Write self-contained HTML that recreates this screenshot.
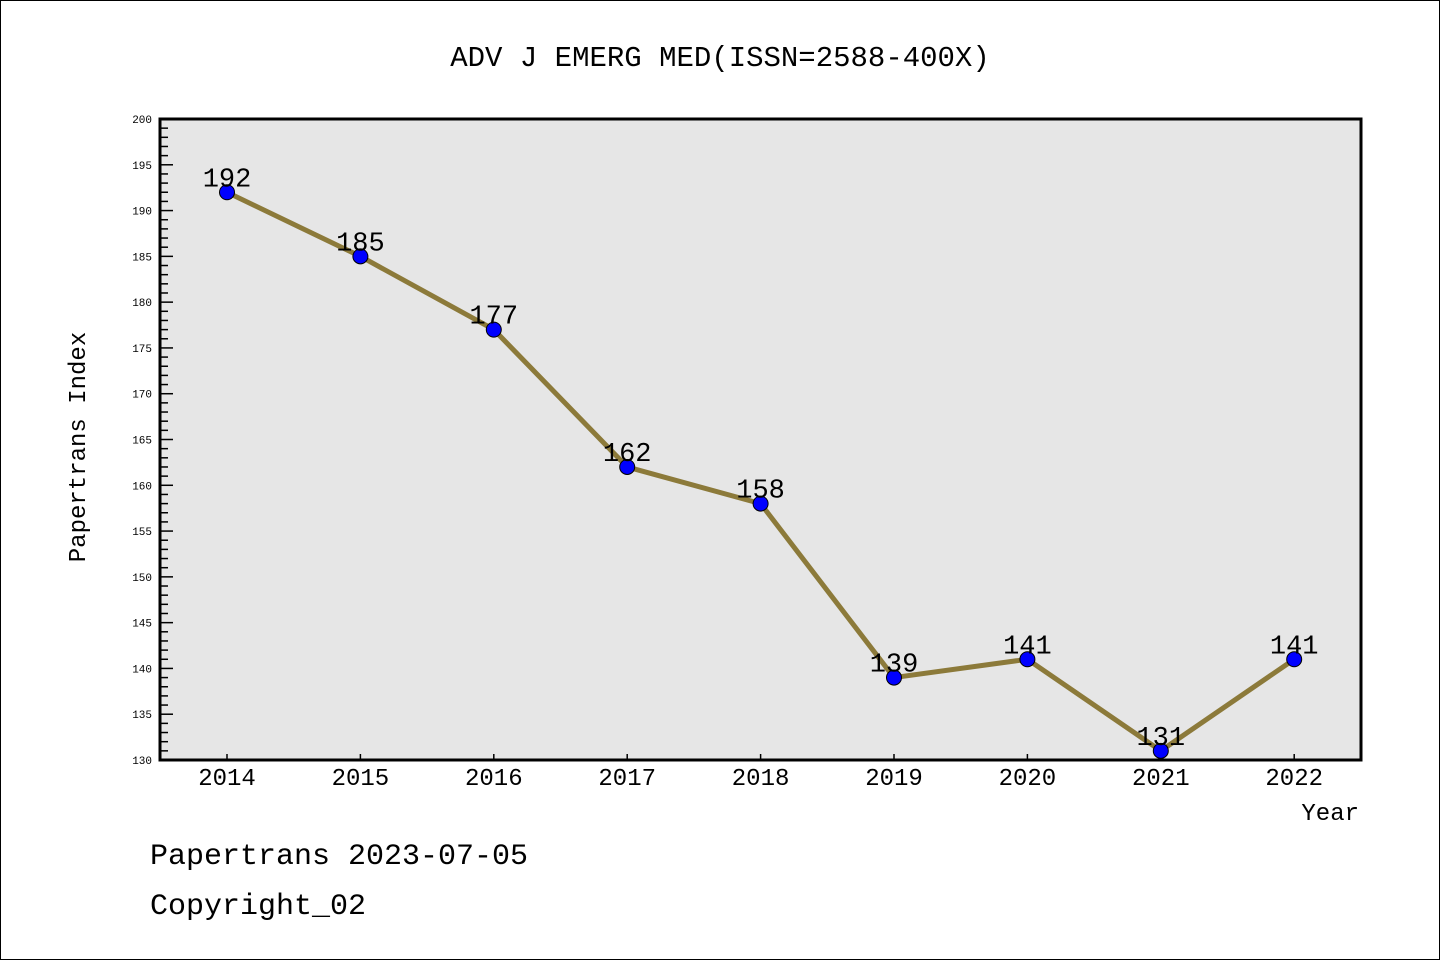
<!DOCTYPE html>
<html><head><meta charset="utf-8"><style>
html,body{margin:0;padding:0;background:#fff;}
svg{display:block;}
text{font-family:"Liberation Mono","DejaVu Sans Mono",monospace;}
</style></head><body>
<svg id="chart" width="1440" height="960" xmlns="http://www.w3.org/2000/svg">
<rect x="0.5" y="0.5" width="1439" height="959" fill="#fff" stroke="#000" stroke-width="1"/>
<text x="720" y="66" text-anchor="middle" font-size="29">ADV J EMERG MED(ISSN=2588-400X)</text>
<rect x="160" y="119" width="1201" height="641" fill="#e6e6e6"/>
<g id="yticks"></g>
<g id="xticks"></g>
<g id="series"></g>
<rect x="160" y="119" width="1201" height="641" fill="none" stroke="#000" stroke-width="3"/>
<text transform="translate(85,447) rotate(-90)" text-anchor="middle" font-size="24">Papertrans Index</text>
<text x="1359" y="820" text-anchor="end" font-size="24">Year</text>
<text x="150" y="864" font-size="30">Papertrans 2023-07-05</text>
<text x="150" y="914" font-size="30">Copyright_02</text>
</svg>
<script>
const years = [2014,2015,2016,2017,2018,2019,2020,2021,2022];
const values = [192,185,177,162,158,139,141,131,141];
const yTickLabels = [130,135,140,145,150,155,160,165,170,175,180,185,190,195,200];
const NS = "http://www.w3.org/2000/svg";
const X0=160,X1=1361,Y0=760,Y1=119,yMin=130,yMax=200;
const xFirst=227,xStep=133.4;
function xs(i){return xFirst+i*xStep;}
function ys(v){return Y0-(v-yMin)/(yMax-yMin)*(Y0-Y1);}
function mk(tag,attrs,parent){const e=document.createElementNS(NS,tag);for(const k in attrs)e.setAttribute(k,attrs[k]);parent.appendChild(e);return e;}
const yg=document.getElementById('yticks');
for(let v=yMin;v<=yMax;v++){
  const major=(v%5===0);
  const t=mk('line',{x1:X0,x2:X0+(major?13:8),y1:ys(v),y2:ys(v),stroke:'#000','stroke-width':1.5},yg);
  
  
}
yTickLabels.forEach(v=>{
  const t=mk('text',{x:152,y:ys(v)+4,'text-anchor':'end','font-size':11,'font-family':'"DejaVu Sans",sans-serif'},yg);
  t.textContent=v;
  
  
});
const xg=document.getElementById('xticks');
years.forEach((y,i)=>{
  const l=mk('line',{x1:xs(i),x2:xs(i),y1:Y0,y2:Y0-6,stroke:'#000','stroke-width':1.5},xg);
  
  
  const t=mk('text',{x:xs(i),y:785,'text-anchor':'middle','font-size':24,'font-family':'"DejaVu Sans","Liberation Sans",sans-serif'},xg);
  t.textContent=y;
  
  
});
const sg=document.getElementById('series');
const pts=values.map((v,i)=>xs(i)+','+ys(v)).join(' ');
const pl=mk('polyline',{points:pts,fill:'none',stroke:'#8c7a3a','stroke-width':5,'stroke-linejoin':'round'},sg);


values.forEach((v,i)=>{
  const c=mk('circle',{cx:xs(i),cy:ys(v),r:7.5,fill:'#0000ff',stroke:'#000','stroke-width':1},sg);
  
  
  const t=mk('text',{x:xs(i),y:ys(v)-6,'text-anchor':'middle','font-size':27,'font-family':'"DejaVu Sans","Liberation Sans",sans-serif'},sg);
  t.textContent=v;
  
  
});
</script>
</body></html>
